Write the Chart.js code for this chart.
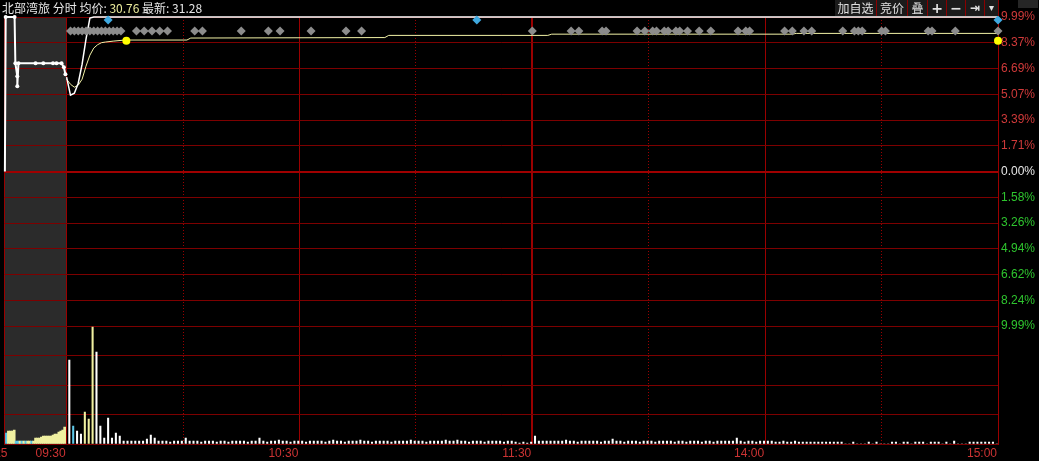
<!DOCTYPE html>
<html>
<head>
<meta charset="utf-8">
<title>北部湾旅 分时</title>
<script src="https://cdn.jsdelivr.net/npm/chart.js@4.4.1/dist/chart.umd.min.js"></script>
<style>
  html, body { margin: 0; padding: 0; background: #000; }
  #wrap { position: relative; width: 1039px; height: 461px; overflow: hidden; background: #000; }
  #chart { position: absolute; left: 0; top: 0; }
  #title { position: absolute; left: 2px; top: 0; font-size: 12px; line-height: 15px; font-family: "Noto Sans CJK SC", sans-serif; color: #e6e6e6; white-space: pre; }
  #title .avg { color: #ecec9c; }
  .btn { position: absolute; top: 0; height: 16px; line-height: 16px; background: #1b1b1b; border-right: 1px solid #8a0000; color: #e0e0e0; font-size: 12px; font-family: "Noto Sans CJK SC", sans-serif; text-align: center; }
  .btn.icon { font-family: "DejaVu Sans", sans-serif; font-weight: bold; }
  #mini { position: absolute; left: 1018px; top: 0; width: 20px; height: 8px; background: #262626; }
</style>
</head>
<body>
<div id="wrap">
  <canvas id="chart" width="1039" height="461"></canvas>
  <div id="title">北部湾旅 分时 均价: <span class="avg">30.76</span> 最新: 31.28</div>
  <div class="btn" style="left:835px;width:41px">加自选</div>
  <div class="btn" style="left:877px;width:30px">竞价</div>
  <div class="btn" style="left:908px;width:19px">叠</div>
  <div class="btn icon" style="left:928px;width:18px;font-size:14px">+</div>
  <div class="btn icon" style="left:947px;width:18px;font-size:14px">−</div>
  <div class="btn icon" style="left:966px;width:18px;font-size:12px">⇥</div>
  <div class="btn icon" style="left:985px;width:13px;font-size:10px">▾</div>
  <div id="mini"></div>
</div>
<script>
// minutes after 09:30 (0 .. 240), the call auction is squeezed into -16 .. 0
const timeTicks = [-16, 0, 60, 120, 180, 240];
const timeLabels = ['09:25', '09:30', '10:30', '11:30', '14:00', '15:00'];
const halfHourTicks = [30, 90, 150, 210];

// right axis labels, top to bottom
const pctLabels = ['9.99%', '8.37%', '6.69%', '5.07%', '3.39%', '1.71%', '0.00%',
                   '1.58%', '3.26%', '4.94%', '6.62%', '8.24%', '9.99%'];

// call auction price (% change)
const preMin = [-15.9, -15.7, -13.4, -13.2, -12.7, -12.7, -12.4, -8.0, -6.0, -3.5, -2.6, -1.3, -0.7, -0.3];
const prePct = [0.00, 9.99, 9.99, 7.00, 6.16, 5.51, 7.00, 7.00, 7.00, 7.00, 7.00, 7.00, 6.74, 6.29];

// price line (% change)
const priceMin = [0, 1, 2, 3, 4, 5, 6, 7, 240];
const pricePct = [6.10, 4.93, 5.06, 5.71, 6.94, 8.56, 9.92, 9.99, 9.99];

// average price line (% change)
const avgMin = [0, 1, 2, 3, 4, 5, 6, 7, 8, 9, 10, 12, 15, 31, 32, 82, 83, 124, 125, 187, 188, 240];
const avgPct = [5.97, 5.64, 5.45, 5.58, 5.97, 6.81, 7.52, 7.98, 8.20, 8.33, 8.37, 8.43, 8.50, 8.50,
                8.63, 8.66, 8.80, 8.80, 8.88, 8.88, 8.93, 8.93];

// markers
const grayMarks = [1, 2, 3, 4, 5, 6, 7, 8, 9, 10, 11, 12, 13, 14, 18, 20, 22, 24, 26, 33, 35, 45, 52, 55,
                   63, 72, 76, 120, 130, 132, 138, 139, 147, 149, 151, 152, 154, 155, 157, 158, 160, 163,
                   166, 173, 175, 176, 185, 187, 190, 192, 200, 203, 204, 205, 210, 211, 222, 223, 229, 240];
const grayPct = 9.08;
const blueMarks = [10.7, 105.7, 240];
const bluePct = 9.79;
const yellowMarks = [15.4, 240];
const yellowPct = 8.45;

// call auction volume
const preVol = [11, 13, 13, 13, 14, 3, 3, 3, 3, 3, 3, 3, 3, 3, 3, 6, 6, 6, 7, 8, 8, 8, 8, 8, 9, 10, 10, 12, 13, 14, 17];
const preVolDown = [0, 5, 6, 8, 10, 13];

// volume per minute 09:31 .. 15:00
const volume = [
  84, 18, 13, 10, 32, 25, 117, 92, 18, 6, 26, 6, 11, 8, 3,
  3, 3, 3, 3, 3, 5, 9, 6, 3, 3, 3, 2, 3, 3, 3,
  6, 3, 3, 3, 2, 3, 3, 3, 2, 3, 3, 2, 3, 3, 3,
  3, 2, 3, 3, 6, 3, 2, 3, 3, 4, 3, 3, 2, 3, 3,
  3, 2, 3, 3, 3, 3, 2, 3, 4, 3, 3, 2, 3, 3, 3,
  4, 3, 3, 2, 3, 3, 3, 3, 2, 3, 3, 3, 3, 4, 3,
  3, 3, 2, 3, 3, 3, 3, 4, 3, 3, 4, 3, 3, 2, 3,
  3, 3, 2, 3, 3, 3, 3, 2, 3, 3, 2, 1, 2, 1, 2,
  8, 3, 3, 3, 3, 3, 3, 3, 4, 3, 3, 2, 3, 3, 3,
  3, 3, 2, 3, 3, 5, 3, 3, 2, 3, 3, 3, 2, 3, 3,
  3, 2, 3, 3, 3, 3, 2, 3, 3, 2, 3, 3, 3, 2, 3,
  3, 2, 3, 3, 3, 3, 3, 6, 3, 2, 3, 3, 2, 3, 3,
  3, 3, 2, 2, 3, 2, 2, 3, 2, 2, 2, 2, 2, 2, 2, 2, 2,
  2, 2, 2, 0, 0, 2, 0, 0, 0, 2, 0, 2, 0, 0, 0, 2, 2, 0, 2, 2,
  0, 2, 2, 2, 0, 2, 2, 2, 0, 2, 0, 3, 0, 0, 0, 2, 2, 2, 2, 2,
  2, 2, 0
];
const volDown = [1];
const volFlat = [4, 5, 6];

const RED = '#7d0000';
const VRED = '#9a0000';
const WHITE = '#ffffff';
const CYAN = '#5ec8e8';
const PALE = '#f0f0a0';

const pts = (xs, ys) => xs.map((x, i) => ({ x: x, y: Array.isArray(ys) ? ys[i] : ys }));

const shade = {
  id: 'shade',
  beforeDraw(chart) {
    const { ctx, chartArea, scales } = chart;
    const x0 = scales.x.getPixelForValue(-16);
    const x1 = scales.x.getPixelForValue(0);
    ctx.save();
    ctx.fillStyle = '#2b2b2b';
    ctx.fillRect(x0, chartArea.top, x1 - x0, chartArea.bottom - chartArea.top);
    ctx.restore();
  }
};

const timeAxisLabels = {
  id: 'timeAxisLabels',
  afterDraw(chart) {
    const { ctx, chartArea, scales } = chart;
    ctx.save();
    ctx.font = '12px "Liberation Sans", Arial, sans-serif';
    ctx.fillStyle = '#cc3333';
    ctx.textAlign = 'right';
    ctx.textBaseline = 'middle';
    timeTicks.forEach((t, i) => {
      const px = scales.x.getPixelForValue(t) + (i === 0 ? 3 : -1);
      ctx.fillText(timeLabels[i], px, chartArea.bottom + 9.5);
    });
    ctx.restore();
  }
};

new Chart(document.getElementById('chart'), {
  type: 'line',
  data: {
    datasets: [
      { data: pts(yellowMarks, yellowPct), showLine: false, pointStyle: 'circle', pointRadius: 4,
        pointBackgroundColor: '#ffff00', pointBorderWidth: 0, clip: false },
      { data: pts(blueMarks, bluePct), showLine: false, pointStyle: 'rectRot', pointRadius: 4.5,
        pointBackgroundColor: '#3fa9e0', pointBorderWidth: 0, clip: false },
      { data: pts(grayMarks, grayPct), showLine: false, pointStyle: 'rectRot', pointRadius: 4.5,
        pointBackgroundColor: '#8c8c8c', pointBorderWidth: 0, clip: false },
      { data: pts(preMin, prePct), borderColor: WHITE, borderWidth: 2,
        pointRadius: c => (c.dataIndex === 0 ? 0 : 2), pointBackgroundColor: WHITE, pointBorderWidth: 0, clip: false },
      { data: pts(priceMin, pricePct), borderColor: WHITE, borderWidth: 1.5, pointRadius: 0, clip: false },
      { data: pts(avgMin, avgPct), borderColor: '#f2f2a6', borderWidth: 1, pointRadius: 0, clip: false },
      { type: 'bar', yAxisID: 'yv', grouped: false, barThickness: 2,
        data: preVol.map((v, k) => ({ x: -15.5 + 0.5 * k, y: v })),
        backgroundColor: preVol.map((v, k) => (preVolDown.includes(k) ? CYAN : PALE)) },
      { type: 'bar', yAxisID: 'yv', grouped: false, barThickness: 1.4,
        data: volume.map((v, i) => ({ x: i + 0.7, y: v })),
        backgroundColor: volume.map((v, i) => (volDown.includes(i) ? CYAN : volFlat.includes(i) ? PALE : WHITE)) }
    ]
  },
  options: {
    responsive: false,
    animation: false,
    events: [],
    layout: { padding: { top: 17, left: 3, right: 0, bottom: 17 } },
    plugins: { legend: { display: false }, tooltip: { enabled: false } },
    scales: {
      x: {
        type: 'linear', position: 'bottom', min: -16, max: 240, offset: false,
        afterBuildTicks: s => { s.ticks = timeTicks.map(v => ({ value: v })); },
        ticks: { display: false },
        grid: { color: VRED, lineWidth: c => (c.tick && c.tick.value === 120 ? 2 : 1), drawTicks: false, offset: false },
        border: { display: true, color: RED }
      },
      x2: {
        type: 'linear', position: 'bottom', min: -16, max: 240, offset: false,
        afterBuildTicks: s => { s.ticks = halfHourTicks.map(v => ({ value: v })); },
        ticks: { display: false },
        grid: { color: VRED, drawTicks: false, offset: false },
        border: { display: false, dash: [1, 2] }
      },
      y: {
        type: 'linear', position: 'right', stack: 'pane', stackWeight: 309,
        min: -9.99, max: 9.99,
        afterBuildTicks: s => { s.ticks = pctLabels.map((l, k) => ({ value: 9.99 * (k - 6) / 6 })); },
        afterFit: s => { s.width = 41; },
        ticks: {
          autoSkip: false, padding: 3,
          font: { family: '"Liberation Sans", Arial, sans-serif', size: 12 },
          color: c => (c.tick.value > 0.001 ? '#d03a3a' : c.tick.value < -0.001 ? '#2ec42e' : '#e6e6e6'),
          callback: (v, i) => pctLabels[12 - i]
        },
        grid: { color: c => (c.tick && Math.abs(c.tick.value) < 0.001 ? '#a00000' : RED),
                lineWidth: c => (c.tick && Math.abs(c.tick.value) < 0.001 ? 2 : 1), drawTicks: false },
        border: { display: true, color: VRED }
      },
      yv: {
        type: 'linear', position: 'right', stack: 'pane', stackWeight: 118,
        min: 0, max: 118,
        afterBuildTicks: s => { s.ticks = [0, 29.5, 59, 88.5, 118].map(v => ({ value: v })); },
        afterFit: s => { s.width = 41; },
        ticks: { display: false },
        grid: { color: RED, drawTicks: false },
        border: { display: true, color: VRED }
      }
    }
  },
  plugins: [shade, timeAxisLabels]
});
</script>
</body>
</html>
